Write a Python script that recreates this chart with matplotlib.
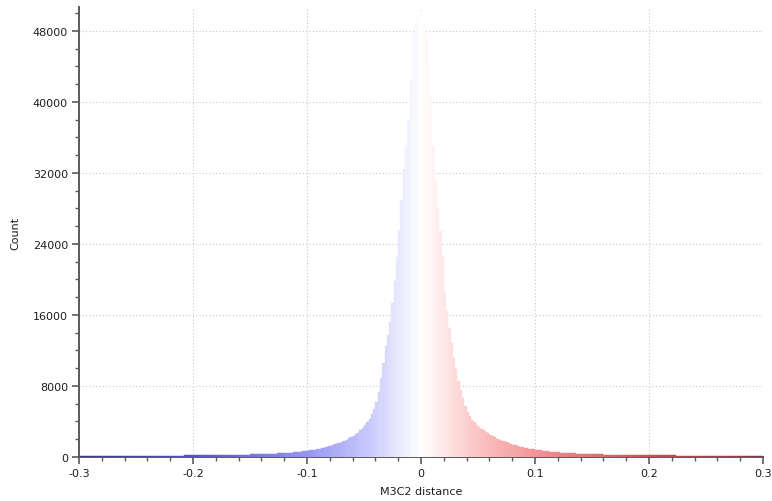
"""Histogram of M3C2 distances with a blue-white-red bin colouring."""

import matplotlib
matplotlib.use("Agg")
import matplotlib.pyplot as plt
from matplotlib.colors import LinearSegmentedColormap
from matplotlib.ticker import MultipleLocator, FuncFormatter
import numpy as np

# bin layout
BIN_START = -0.3
BIN_WIDTH = 0.002

# counts per bin, from -0.3 up to 0
LEFT_TAIL = [
    100, 101, 102, 103, 104, 105, 106, 107, 108, 109,
    110, 111, 113, 114, 115, 116, 117, 118, 120, 121,
    122, 124, 125, 126, 128, 129, 131, 132, 134, 135,
    137, 139, 140, 142, 144, 146, 148, 150, 152, 154,
    156, 158, 160, 163, 165, 167, 170, 172, 175, 177,
    180, 183, 186, 189, 192, 195, 198, 201, 204, 208,
    212, 216, 220, 224, 228, 232, 237, 242, 247, 252,
    257, 263, 269, 275, 281,
]
LEFT_CORE = [
    288, 296, 304, 312, 320, 330, 340, 350, 360, 370,
    380, 390, 400, 415, 430, 445, 460, 480, 500, 520,
    545, 570, 600, 630, 665, 700, 740, 785, 830, 880,
    935, 990, 1050, 1120, 1190, 1270, 1350, 1440, 1530, 1630,
    1740, 1850, 1970, 2100, 2230, 2380, 2550, 2750, 3000, 3250,
    3550, 3900, 4300, 4800, 5400, 6200, 7300, 8900, 10600, 12500,
    13800, 15200, 17300, 19800, 22500, 25500, 29000, 32500, 35000, 38000,
    42500, 47500, 48800, 49500, 50600,
]

# counts per bin, from 0 up to 0.3
RIGHT_CORE = [
    50000, 49000, 47800, 44000, 40500, 35000, 31000, 28000, 25500, 22500,
    18500, 16500, 14500, 12800, 11200, 9900, 8600, 7500, 6600, 5800,
    5100, 4600, 4200, 3900, 3650, 3400, 3200, 3000, 2800, 2650,
    2500, 2350, 2200, 2050, 1950, 1850, 1750, 1650, 1550, 1470,
    1390, 1310, 1240, 1170, 1110, 1050, 990, 940, 890, 850,
    810, 770, 735, 700, 670, 640, 610, 585, 560, 535,
    515, 495, 475, 455, 440, 425, 410, 395, 380, 365,
]
RIGHT_TAIL = [
    355, 346, 337, 329, 321, 313, 306, 299, 292, 286,
    280, 274, 268, 263, 258, 253, 248, 243, 239, 235,
    231, 227, 223, 219, 216, 212, 209, 206, 203, 200,
    197, 194, 191, 189, 186, 184, 181, 179, 177, 175,
    173, 171, 169, 167, 165, 163, 161, 159, 157, 156,
    154, 152, 151, 149, 148, 146, 145, 143, 142, 141,
    139, 138, 137, 135, 134, 133, 132, 131, 130, 128,
    127, 126, 125, 124, 123, 122, 121, 120, 119, 118,
]

SCALE_COLORS = [
    (0.00, "#3a3a8c"),
    (0.17, "#5454c6"),
    (0.33, "#9494f2"),
    (0.42, "#c6c6fc"),
    (0.50, "#ffffff"),
    (0.58, "#fcc6c6"),
    (0.67, "#f29494"),
    (0.83, "#c65454"),
    (1.00, "#8c3a3a"),
]

AXIS = "#5a5a5a"
TEXT = "#1e1e1e"
GRID = "#c8c8c8"

counts = np.array(LEFT_TAIL + LEFT_CORE + RIGHT_CORE + RIGHT_TAIL, dtype=float)
lefts = BIN_START + BIN_WIDTH * np.arange(len(counts))
centers = lefts + BIN_WIDTH / 2

cmap = LinearSegmentedColormap.from_list("bwr_scale", SCALE_COLORS)
colors = cmap((centers + 0.3) / 0.6)

plt.rcParams["font.family"] = ["DejaVu Sans"]
fig = plt.figure(figsize=(7.72, 5.02), dpi=100)
fig.patch.set_facecolor("white")
ax = fig.add_axes([79 / 772, 44 / 502, 684 / 772, 450 / 502])

# bars sit on top of the bottom spine so the thin tails stay visible
ax.bar(lefts, counts, width=BIN_WIDTH, align="edge", color=colors,
       edgecolor=colors, linewidth=0.3, zorder=3)

ax.set_xlim(-0.3, 0.3)
ax.set_ylim(0, 50700)
ax.xaxis.set_major_locator(MultipleLocator(0.1))
ax.xaxis.set_minor_locator(MultipleLocator(0.02))
ax.yaxis.set_major_locator(MultipleLocator(8000))
ax.yaxis.set_minor_locator(MultipleLocator(2000))
ax.xaxis.set_major_formatter(FuncFormatter(lambda v, _: f"{round(v, 2):g}"))

ax.grid(which="major", color=GRID, linestyle=(0, (1, 2)), linewidth=0.8, zorder=0)

for side in ("top", "right"):
    ax.spines[side].set_visible(False)
for side in ("left", "bottom"):
    ax.spines[side].set_color(AXIS)
    ax.spines[side].set_linewidth(1.4)

ax.tick_params(which="major", direction="out", length=5, width=1.2,
               color=AXIS, labelsize=8, labelcolor=TEXT, pad=3)
ax.tick_params(which="minor", direction="out", length=3, width=1.0, color=AXIS)

ax.set_xlabel("M3C2 distance", fontsize=8, color=TEXT, labelpad=6)
ax.set_ylabel("Count", fontsize=8, color=TEXT, labelpad=9)

fig.savefig("out.png", dpi=100, facecolor="white")
